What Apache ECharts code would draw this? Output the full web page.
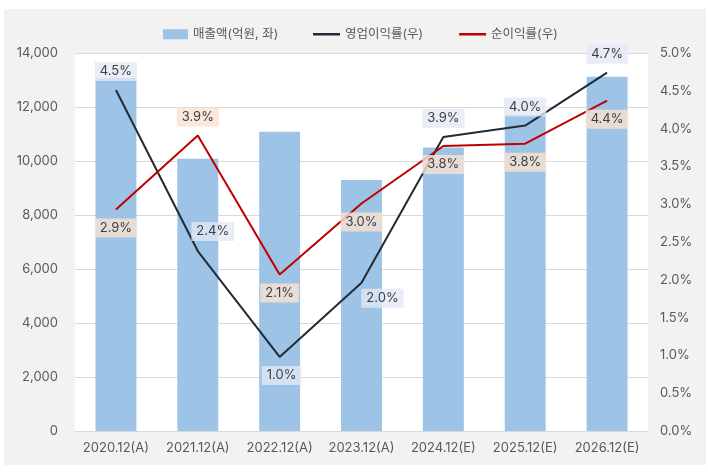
<!DOCTYPE html>
<html>
<head>
<meta charset="utf-8">
<script src="https://cdn.jsdelivr.net/npm/echarts@6/dist/echarts.min.js"></script>
<style>
html,body{margin:0;padding:0;background:#fff;}
#wrap{position:relative;width:708px;height:473px;}
#bg{position:absolute;left:4px;top:9px;width:702px;height:456px;background:#f2f2f2;}
#chart{position:absolute;left:0;top:0;width:708px;height:473px;}
</style>
</head>
<body>
<div id="wrap"><div id="bg"></div><div id="chart"></div></div>
<script>
const categories = ['2020.12(A)','2021.12(A)','2022.12(A)','2023.12(A)','2024.12(E)','2025.12(E)','2026.12(E)'];
const revenue = [13070, 10080, 11080, 9300, 10500, 11710, 13120];
const opMargin = [4.51, 2.38, 0.98, 1.96, 3.89, 4.04, 4.74];
const netMargin = [2.93, 3.91, 2.07, 3.01, 3.77, 3.80, 4.37];
const leftTicks = {min: 0, max: 14000, interval: 2000};
const rightTicks = {min: 0, max: 5, interval: 0.5};

const FONT = "Inter, 'Noto Sans CJK KR', sans-serif";
const opPos = ['top','top','bottom','bottom','top','top','top'];
const opOff = [[0,0],[15,-1],[2,0],[21,-3],[0,0],[0,0],[0,0]];
const netPos = ['bottom','top','bottom','bottom','bottom','bottom','bottom'];

function lbl(bg){
  return {show:true, distance:9, color:'#404040', fontSize:13, fontFamily:FONT,
    backgroundColor:bg, padding:[3,5],
    formatter: p => p.value.toFixed(1) + '%'};
}

const chart = echarts.init(document.getElementById('chart'), null, {renderer:'canvas'});
chart.setOption({
  backgroundColor: 'transparent',
  animation: false,
  textStyle: {fontFamily: FONT},
  legend: [
    {left: 163, top: 28, padding: 0, itemWidth: 25, itemHeight: 10, icon: 'rect', itemGap: 38,
     textStyle: {color:'#595959', fontSize:12.5, fontFamily:FONT},
     data: ['매출액(억원, 좌)']},
    {left: 313, top: 28, padding: 0, itemWidth: 27, itemHeight: 2.5, icon: 'rect', itemGap: 36,
     textStyle: {color:'#595959', fontSize:12.5, fontFamily:FONT},
     data: ['영업이익률(우)', '순이익률(우)']}
  ],
  grid: {left: 75, right: 60, top: 53, bottom: 42, show: true, backgroundColor: '#fff', borderWidth: 0},
  xAxis: {
    type: 'category', data: categories, boundaryGap: true,
    axisTick: {show:false},
    axisLine: {lineStyle: {color:'#d9d9d9'}},
    axisLabel: {color:'#595959', fontSize:13, margin:11, fontFamily:FONT, interval:0}
  },
  yAxis: [
    {type:'value', min:leftTicks.min, max:leftTicks.max, interval:leftTicks.interval,
     axisLabel:{color:'#595959', fontSize:13, margin:17, fontFamily:FONT,
       formatter: v => v.toLocaleString('en-US')},
     axisLine:{show:false}, axisTick:{show:false},
     splitLine:{lineStyle:{color:'#d9d9d9'}}},
    {type:'value', min:rightTicks.min, max:rightTicks.max, interval:rightTicks.interval,
     axisLabel:{color:'#595959', fontSize:13, margin:12, fontFamily:FONT,
       formatter: v => v.toFixed(1) + '%'},
     axisLine:{show:false}, axisTick:{show:false}, splitLine:{show:false}}
  ],
  series: [
    {name:'매출액(억원, 좌)', type:'bar', data: revenue, barWidth:'50%',
     itemStyle:{color:'#9dc3e6'}, z:1},
    {name:'영업이익률(우)', type:'line', yAxisIndex:1, z:3,
     symbol:'circle', symbolSize:0.01, showSymbol:true,
     lineStyle:{color:'#222a35', width:2}, itemStyle:{color:'#222a35'},
     data: opMargin.map((v,i) => ({value:v, label:Object.assign(lbl('rgba(226,232,246,0.8)'), {position:opPos[i], offset:opOff[i]})}))},
    {name:'순이익률(우)', type:'line', yAxisIndex:1, z:4,
     symbol:'circle', symbolSize:0.01, showSymbol:true,
     lineStyle:{color:'#c00000', width:2}, itemStyle:{color:'#c00000'},
     data: netMargin.map((v,i) => ({value:v, label:Object.assign(lbl('rgba(251,226,210,0.8)'), {position:netPos[i]})}))}
  ]
});
</script>
</body>
</html>
